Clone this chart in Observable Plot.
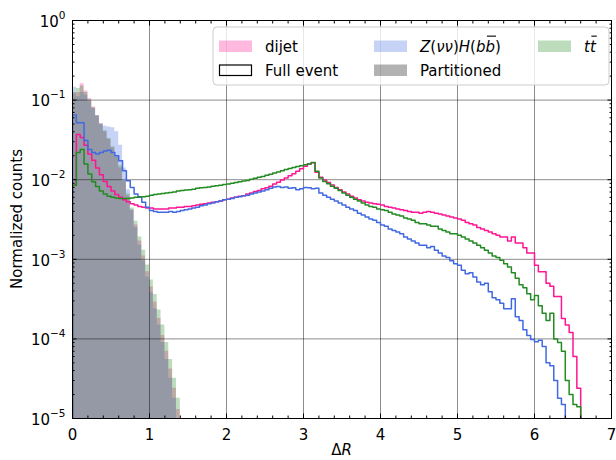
<!DOCTYPE html>
<html><head><meta charset="utf-8">
<script src="https://cdn.jsdelivr.net/npm/d3@7"></script>
<script src="https://cdn.jsdelivr.net/npm/@observablehq/plot@0.6"></script>
<style>
html,body{margin:0;padding:0;background:#fff;}
#chart svg{display:block;font-family:"DejaVu Sans";}
</style>
</head><body><div id="chart"></div>
<script>
// ---------------- data ----------------
const binWidth = 0.05;
const seriesLabels = ["dijet", "Z(νν)H(bb̄)", "tt̄"];
const styleLabels = ["Full event", "Partitioned"];
const xTicks = [0, 1, 2, 3, 4, 5, 6, 7];
const yTicks = [1e-5, 1e-4, 1e-3, 1e-2, 1e-1, 1];

const dijetFull = [0.0085,0.037,0.034,0.027,0.021,0.0175,0.014,0.0115,0.0095,0.0082,
0.0072,0.0065,0.006,0.0056,0.0053,0.005,0.0048,0.0046,0.0045,0.0044,
0.0044,0.0043,0.0043,0.0043,0.0043,0.0044,0.0044,0.0045,0.0045,0.0046,
0.0046,0.0047,0.0048,0.0049,0.005,0.0051,0.0052,0.0053,0.0054,0.0056,
0.0057,0.0059,0.006,0.0062,0.0063,0.0066,0.0068,0.0071,0.0073,0.0077,
0.0079,0.0083,0.0088,0.0093,0.0099,0.0105,0.0112,0.0119,0.0128,0.0137,
0.0148,0.0157,0.0163,0.0124,0.0107,0.0099,0.0092,0.0086,0.008,0.0075,
0.007,0.0066,0.0062,0.0059,0.0056,0.0054,0.0052,0.0051,0.005,0.0049,
0.0048,0.0046,0.0045,0.0044,0.0043,0.0042,0.0041,0.004,0.0039,0.0039,
0.0038,0.0039,0.004,0.0039,0.0038,0.0037,0.0036,0.0035,0.0034,0.0033,
0.0032,0.0031,0.0029,0.0028,0.0027,0.0025,0.0024,0.0023,0.0022,0.0021,
0.002,0.0019,0.0019,0.0017,0.0019,0.0016,0.0016,0.0014,0.0012,0.0012,
0.00084,0.0007,0.0007,0.0005,0.00046,0.00034,0.00034,0.00018,0.00015,0.00012,
0.00006,0.000024];

const zhFull = [0.065,0.052,0.052,0.031,0.024,0.022,0.021,0.022,0.023,0.0235,
0.022,0.02,0.0173,0.013,0.0097,0.008,0.0066,0.006,0.0052,0.0045,
0.0041,0.004,0.0039,0.0039,0.0039,0.004,0.0039,0.004,0.0041,0.0042,
0.0043,0.0044,0.0045,0.0047,0.0048,0.005,0.0051,0.0053,0.0054,0.0056,
0.0057,0.0058,0.006,0.0061,0.0063,0.0064,0.0066,0.0068,0.007,0.0072,
0.0075,0.0078,0.0081,0.0082,0.008,0.0081,0.0078,0.0079,0.0075,0.0077,
0.008,0.0079,0.0077,0.0078,0.0068,0.0064,0.006,0.0057,0.0054,0.0051,
0.0048,0.0045,0.0043,0.0041,0.0038,0.0036,0.0034,0.0032,0.0031,0.0029,
0.0027,0.0026,0.0024,0.0023,0.0022,0.0021,0.0019,0.0018,0.0017,0.0016,
0.0015,0.0015,0.0014,0.00145,0.0013,0.0012,0.0011,0.00105,0.00096,0.00088,
0.00084,0.00073,0.00066,0.00068,0.0006,0.00052,0.00048,0.0005,0.00039,0.00033,
0.00031,0.00028,0.00024,0.00024,0.00032,0.00019,0.00017,0.00013,0.00011,0.000098,
0.000092,0.000096,0.00008,0.00005,0.000046,0.00003,0.000018,0.000015];

const ttFull = [0.0085,0.022,0.024,0.0157,0.0118,0.0094,0.0082,0.0072,0.0066,0.0062,
0.006,0.0059,0.0058,0.0058,0.0058,0.0059,0.006,0.0061,0.0061,0.0062,
0.0064,0.0065,0.0066,0.0067,0.0068,0.0069,0.007,0.0072,0.0073,0.0074,
0.0075,0.0076,0.0078,0.0079,0.008,0.0081,0.0083,0.0084,0.0085,0.0087,
0.0088,0.009,0.0092,0.0094,0.0096,0.0098,0.0101,0.0104,0.0107,0.011,
0.0114,0.0117,0.0121,0.0125,0.013,0.0134,0.0138,0.0142,0.0146,0.015,
0.0154,0.0158,0.0165,0.0128,0.0105,0.0095,0.0089,0.0083,0.0078,0.0073,
0.0068,0.0064,0.006,0.0057,0.0054,0.0051,0.0048,0.0046,0.0045,0.0043,
0.0042,0.0041,0.0039,0.0037,0.0036,0.0035,0.0033,0.0032,0.0031,0.0029,
0.0028,0.0028,0.0027,0.0026,0.0026,0.0024,0.0023,0.0022,0.0021,0.0021,
0.002,0.0019,0.0018,0.0017,0.0016,0.0015,0.0014,0.0013,0.0012,0.0011,
0.00105,0.00097,0.00088,0.0008,0.00068,0.00058,0.00048,0.00044,0.00037,0.00031,
0.00035,0.00026,0.00021,0.00017,0.00021,0.0001,0.00009,0.00007,0.00003,0.00002,
0.000015,0.000014];

const dijetPart = [0.12,0.125,0.16,0.13,0.104,0.082,0.064,0.05,0.04,0.032,
0.025,0.019,0.014,0.0095,0.0062,0.0041,0.0027,0.0017,0.0011,0.0007,
0.00045,0.00029,0.00018,0.00011,0.00007,0.000042,0.000024,0.000013];
const zhPart = [0.145,0.11,0.125,0.115,0.095,0.078,0.063,0.05,0.047,0.046,
0.045,0.04,0.027,0.014,0.0075,0.0042,0.0025,0.0015,0.00095,0.0006,
0.00038,0.00024,0.00015,0.00009,0.000055,0.000032,0.000018,0.000009];
const ttPart = [0.125,0.14,0.15,0.125,0.1,0.08,0.063,0.05,0.041,0.033,
0.026,0.02,0.015,0.0098,0.0066,0.0044,0.003,0.0019,0.0013,0.00085,
0.00055,0.00036,0.00023,0.00015,0.00009,0.000055,0.000032,0.000018];

// ---------------- styling ----------------
const colors = ["#ff1493", "#4169e1", "#228b22"];
const FLOOR = 1e-8;

function stepPoints(vals) {
  const pts = [{x: 0, y: FLOOR, y0: FLOOR}];
  vals.forEach((v, i) => pts.push({x: i * binWidth, y: v, y0: FLOOR}));
  const end = vals.length * binWidth;
  pts.push({x: end, y: vals[vals.length - 1], y0: FLOOR});
  pts.push({x: end, y: FLOOR, y0: FLOOR});
  return pts;
}

const fullSeries = [dijetFull, zhFull, ttFull].map(stepPoints);
const partSeries = [dijetPart, zhPart, ttPart].map(stepPoints);

const xMinor = d3.range(0, 7.01, 0.2).filter(v => Math.abs(v - Math.round(v)) > 1e-6);
const yMinor = [];
for (let e = -5; e < 0; e++) for (let k = 2; k <= 9; k++) yMinor.push(k * Math.pow(10, e));

const FS = 15;
const marks = [];
partSeries.forEach((pts, i) => marks.push(
  Plot.areaY(pts, {x: "x", y1: "y0", y2: "y", curve: "step-after", fill: colors[i], fillOpacity: 0.3, clip: true})
));
marks.push(Plot.gridX([1,2,3,4,5,6], {stroke: "#000", strokeOpacity: 0.45, strokeWidth: 1}));
marks.push(Plot.gridY([1e-4,1e-3,1e-2,1e-1], {stroke: "#000", strokeOpacity: 0.45, strokeWidth: 1}));
fullSeries.forEach((pts, i) => marks.push(
  Plot.line(pts, {x: "x", y: "y", curve: "step-after", stroke: colors[i], strokeWidth: 1.5, clip: true})
));
marks.push(
  Plot.axisX(xTicks, {anchor: "bottom", tickSize: -4.5, tickPadding: 15.5, fontSize: FS, label: null, tickFormat: d => String(d)}),
  Plot.axisX(xMinor, {anchor: "bottom", tickSize: -2.5, tickFormat: () => "", label: null}),
  Plot.axisX(xTicks, {anchor: "top", tickSize: -4.5, tickFormat: () => "", label: null}),
  Plot.axisX(xMinor, {anchor: "top", tickSize: -2.5, tickFormat: () => "", label: null}),
  Plot.axisY(yTicks, {anchor: "left", tickSize: -4.5, tickPadding: 11.5, fontSize: FS, label: null, tickFormat: d => "10^" + Math.round(Math.log10(d))}),
  Plot.axisY(yMinor, {anchor: "left", tickSize: -2.5, tickFormat: () => "", label: null}),
  Plot.axisY(yTicks, {anchor: "right", tickSize: -4.5, tickFormat: () => "", label: null}),
  Plot.axisY(yMinor, {anchor: "right", tickSize: -2.5, tickFormat: () => "", label: null}),
  Plot.frame({stroke: "#000", strokeWidth: 1})
);

const node = Plot.plot({
  width: 616, height: 460,
  marginLeft: 72, marginRight: 5, marginTop: 20, marginBottom: 42,
  style: {fontFamily: "DejaVu Sans", fontSize: FS + "px", color: "#000", background: "#fff"},
  x: {domain: [0, 7]},
  y: {type: "log", domain: [1e-5, 1]},
  marks
});
document.getElementById("chart").append(node);
const svg = d3.select(node);

// y tick labels as 10 with superscript exponent
svg.selectAll('g[aria-label="y-axis tick label"] text').each(function() {
  const t = d3.select(this);
  const s = t.text();
  if (!s.startsWith("10^")) return;
  const ex = s.slice(3).replace("-", "\u2212");
  t.text(null);
  t.append("tspan").attr("dy", "0.1em").text("10");
  t.append("tspan").attr("dy", -8).attr("font-size", 10.5).text(ex);
});

// axis titles
svg.append("text").attr("x", 341.5).attr("y", 455).attr("text-anchor", "middle")
  .attr("font-size", FS).attr("fill", "#000")
  .call(t => { t.append("tspan").text("Δ"); t.append("tspan").attr("font-style", "italic").text("R"); });
svg.append("text").attr("transform", "translate(21.5,219) rotate(-90)").attr("text-anchor", "middle")
  .attr("font-size", FS).attr("fill", "#000").text("Normalized counts");

// legend
const lg = svg.append("g").attr("font-size", FS).attr("fill", "#000").attr("text-anchor", "start");
lg.append("rect").attr("x", 213).attr("y", 27).attr("width", 396).attr("height", 58).attr("rx", 4)
  .attr("fill", "#fff").attr("fill-opacity", 0.8).attr("stroke", "#cccccc").attr("stroke-width", 1);
const colX = [219, 374, 538];
const rowY = [40.5, 64.5];
const patchW = 33, patchH = 11.5, textGap = 13;

function richLabel(g, x, y, label) {
  const t = g.append("text").attr("x", x).attr("y", y).attr("text-anchor", "start");
  const over = [];
  if (label === seriesLabels[1]) {
    const parts = [["Z", 1], ["(", 0], ["νν", 1], [")", 0], ["H", 1], ["(", 0], ["b", 1], ["b", 1, true], [")", 0]];
    let idx = 0;
    parts.forEach(([s, it, ov]) => {
      t.append("tspan").attr("font-style", it ? "italic" : null).text(s);
      if (ov) over.push(idx);
      idx += s.length;
    });
  } else if (label === seriesLabels[2]) {
    t.append("tspan").attr("font-style", "italic").text("t");
    t.append("tspan").attr("font-style", "italic").text("t");
    over.push(1);
  } else {
    t.text(label);
  }
  const el = t.node();
  over.forEach(i => {
    const r = el.getExtentOfChar(i);
    g.append("line").attr("x1", r.x + 1.5).attr("x2", r.x + r.width + 1)
      .attr("y1", y - 15.5).attr("y2", y - 15.5).attr("stroke", "#000").attr("stroke-width", 1.1);
  });
}

seriesLabels.forEach((lab, i) => {
  lg.append("rect").attr("x", colX[i]).attr("y", rowY[0]).attr("width", patchW).attr("height", patchH)
    .attr("fill", colors[i]).attr("fill-opacity", 0.3);
  richLabel(lg, colX[i] + patchW + textGap, rowY[0] + patchH / 2 + 5.4, lab);
});
lg.append("rect").attr("x", colX[0] + 0.5).attr("y", rowY[1] + 0.5).attr("width", patchW - 1).attr("height", patchH - 1)
  .attr("fill", "none").attr("stroke", "#000").attr("stroke-width", 1.2);
richLabel(lg, colX[0] + patchW + textGap, rowY[1] + patchH / 2 + 5.4, styleLabels[0]);
lg.append("rect").attr("x", colX[1]).attr("y", rowY[1]).attr("width", patchW).attr("height", patchH)
  .attr("fill", "#000").attr("fill-opacity", 0.3);
richLabel(lg, colX[1] + patchW + textGap, rowY[1] + patchH / 2 + 5.4, styleLabels[1]);
</script>
</body></html>
